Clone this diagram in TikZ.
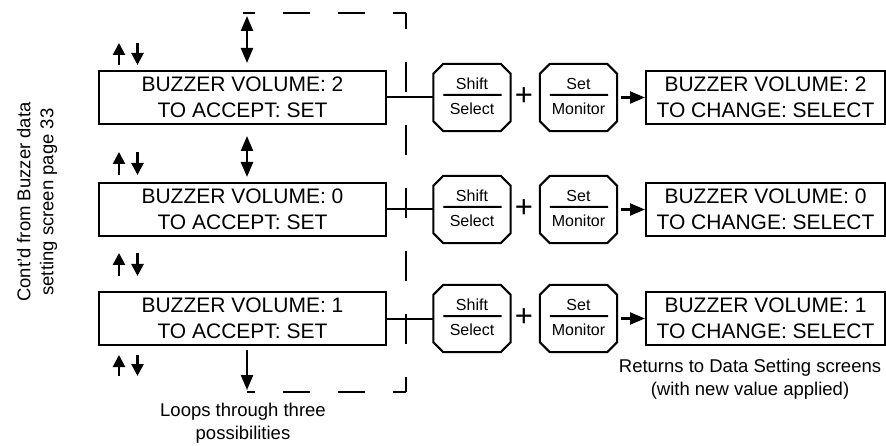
\documentclass[tikz,border=0pt]{standalone}
\usepackage{fontspec}
\setmainfont{Liberation Sans}
\usetikzlibrary{arrows.meta}

\begin{document}
\begin{tikzpicture}[x=1pt,y=-1pt,
  lcd/.style={draw, line width=2pt, rectangle, align=center, inner sep=0pt, minimum height=53pt, font=\fontsize{21}{26}\selectfont},
  keycap/.style={rectangle, minimum width=77pt, minimum height=67pt, inner sep=0pt},
  keytext/.style={inner sep=0pt, font=\fontsize{16}{19}\selectfont},
  note/.style={align=center, inner sep=0pt, font=\fontsize{18.5}{23}\selectfont},
  wire/.style={line width=2pt},
  twoway/.style={line width=2.4pt, {Triangle[length=15pt,width=12pt]}-{Triangle[length=15pt,width=12pt]}},
  oneway/.style={line width=2.2pt, -{Triangle[length=15pt,width=12pt]}},
  nudge/.style={line width=2.6pt, -{Triangle[length=12pt,width=12pt]}},
  loopv/.style={line width=2.5pt, dash pattern=on 30pt off 33pt, dash phase=15pt},
  looph/.style={line width=2.5pt, dash pattern=on 27pt off 28pt, dash phase=14pt}]
\useasboundingbox (0,0) rectangle (886,446);

% side note
\node[note, rotate=90] (from) at (37,202) {Cont'd from Buzzer data\\setting screen page 33};

% left screens
\node[lcd, minimum width=287pt] (b1) at (242.5,97.5) {BUZZER VOLUME: 2\\TO ACCEPT: SET};
\node[lcd, minimum width=287pt] (b2) at (242.5,209.5) {BUZZER VOLUME: 0\\TO ACCEPT: SET};
\node[lcd, minimum width=287pt] (b3) at (242.5,318.5) {BUZZER VOLUME: 1\\TO ACCEPT: SET};

% keys
\node[keycap] (s1) at (472,97.5) {};
\node[keycap] (s2) at (472,209.5) {};
\node[keycap] (s3) at (472,318.5) {};
\node[keycap] (m1) at (578.5,97.5) {};
\node[keycap] (m2) at (578.5,209.5) {};
\node[keycap] (m3) at (578.5,318.5) {};
\foreach \k in {s1,s2,s3,m1,m2,m3}
  \draw[wire] ([xshift=10pt]\k.north west) -- ([xshift=-10pt]\k.north east) -- ([yshift=-10pt]\k.north east)
    -- ([yshift=10pt]\k.south east) -- ([xshift=-10pt]\k.south east) -- ([xshift=10pt]\k.south west)
    -- ([yshift=10pt]\k.south west) -- ([yshift=-10pt]\k.north west) -- cycle
    ([xshift=10pt,yshift=2.5pt]\k.west) -- ([xshift=-9pt,yshift=2.5pt]\k.east);

\node[keytext] (s1a) at (472,84) {Shift};
\node[keytext] (s1b) at (472,109) {Select};
\node[keytext] (s2a) at (472,196) {Shift};
\node[keytext] (s2b) at (472,221) {Select};
\node[keytext] (s3a) at (472,305) {Shift};
\node[keytext] (s3b) at (472,330) {Select};
\node[keytext] (m1a) at (578.5,84) {Set};
\node[keytext] (m1b) at (578.5,109) {Monitor};
\node[keytext] (m2a) at (578.5,196) {Set};
\node[keytext] (m2b) at (578.5,221) {Monitor};
\node[keytext] (m3a) at (578.5,305) {Set};
\node[keytext] (m3b) at (578.5,330) {Monitor};

\node[font=\fontsize{31}{33}\selectfont, inner sep=0pt] (p1) at (524,97) {+};
\node[font=\fontsize{31}{33}\selectfont, inner sep=0pt] (p2) at (524,209) {+};
\node[font=\fontsize{31}{33}\selectfont, inner sep=0pt] (p3) at (524,318) {+};

% right screens
\node[lcd, minimum width=239pt] (c1) at (765.5,97.5) {BUZZER VOLUME: 2\\TO CHANGE: SELECT};
\node[lcd, minimum width=239pt] (c2) at (765.5,209.5) {BUZZER VOLUME: 0\\TO CHANGE: SELECT};
\node[lcd, minimum width=239pt] (c3) at (765.5,318.5) {BUZZER VOLUME: 1\\TO CHANGE: SELECT};

\draw[wire] (b1.east) -- (s1.west);
\draw[wire] (b2.east) -- (s2.west);
\draw[wire] (b3.east) -- (s3.west);
\draw[oneway] ([xshift=4pt]m1.east) -- (c1.west);
\draw[oneway] ([xshift=4pt]m2.east) -- (c2.west);
\draw[oneway] ([xshift=4pt]m3.east) -- (c3.west);

% loop
\coordinate (looptl) at (243,13);
\coordinate (looptr) at (406,13);
\coordinate (loopbr) at (406,392);
\coordinate (loopbl) at (247,392);
\coordinate (looptip) at (247,16);
\coordinate (loopend) at (247,390);
\draw[loopv] (loopbr) -- (looptr);
\draw[looph] (looptr) -- (looptl);
\draw[looph] (loopbr) -- (loopbl);
\draw[twoway] (looptip) -- ([xshift=4.5pt,yshift=7pt]b1.north);
\draw[twoway] ([xshift=4.5pt,yshift=-11pt]b1.south) -- ([xshift=4.5pt,yshift=5pt]b2.north);
\draw[oneway] ([xshift=4.5pt,yshift=-4pt]b3.south) -- (loopend);

% up / down keys
\draw[nudge] (119,65) -- (119,43);
\draw[nudge] (137.5,43) -- (137.5,65);
\draw[nudge] (119,175) -- (119,152);
\draw[nudge] (137.5,152) -- (137.5,175);
\draw[nudge] (119,276) -- (119,253);
\draw[nudge] (137.5,253) -- (137.5,276);
\draw[nudge] (119,376) -- (119,355);
\draw[nudge] (137.5,355) -- (137.5,376);

% notes
\node[note] (loops) at (243,423) {Loops through three\\possibilities};
\node[note] (back) at (750,379.5) {Returns to Data Setting screens\\(with new value applied)};
\end{tikzpicture}
\end{document}
